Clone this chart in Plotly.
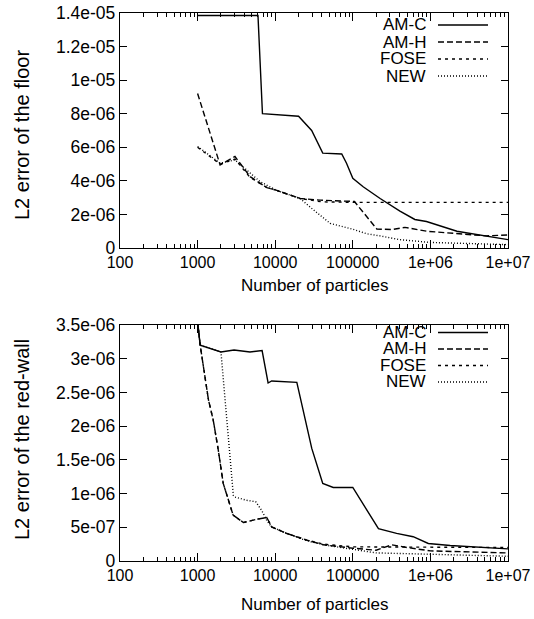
import plotly.graph_objects as go

# ---------------- data ----------------
series_names = ["AM-C", "AM-H", "FOSE", "NEW"]

# Top panel: L2 error of the floor
floor_amc_x = [1000, 6000, 6850, 10000, 20000, 29500, 41000, 72000, 83000, 100000, 136000,
               225000, 405000, 630000, 890000, 2200000, 5300000, 10000000]
floor_amc_y = [13.85e-6, 13.85e-6, 8.0e-6, 7.95e-6, 7.85e-6, 7.0e-6, 5.65e-6, 5.6e-6, 5.05e-6,
               4.15e-6, 3.65e-6, 2.95e-6, 2.2e-6, 1.7e-6, 1.58e-6, 1.0e-6, 0.7e-6, 0.5e-6]

floor_amh_x = [1000, 1950, 3030, 4750, 7800, 10500, 20900, 38000, 105000, 204000, 318000,
               470000, 890000, 2200000, 5300000, 10000000]
floor_amh_y = [9.2e-6, 4.95e-6, 5.45e-6, 4.25e-6, 3.6e-6, 3.43e-6, 2.95e-6, 2.85e-6, 2.77e-6,
               1.13e-6, 1.1e-6, 1.23e-6, 1.0e-6, 0.88e-6, 0.72e-6, 0.78e-6]

floor_fose_x = [1000, 1950, 3030, 4750, 7800, 10500, 20900, 40000, 100000, 1000000, 10000000]
floor_fose_y = [6.0e-6, 5.0e-6, 5.3e-6, 4.2e-6, 3.6e-6, 3.43e-6, 2.95e-6, 2.75e-6, 2.72e-6,
                2.72e-6, 2.72e-6]

floor_new_x = [1000, 1950, 3030, 6400, 10500, 20900, 31000, 51000, 100000, 150000, 225000,
               400000, 1000000, 10000000]
floor_new_y = [6.05e-6, 5.05e-6, 5.25e-6, 3.95e-6, 3.43e-6, 2.95e-6, 2.28e-6, 1.47e-6, 1.12e-6,
               0.85e-6, 0.72e-6, 0.5e-6, 0.33e-6, 0.2e-6]

# Bottom panel: L2 error of the red-wall
wall_amc_x = [1000, 1080, 2000, 2950, 4730, 6780, 8100, 9000, 19000, 29600, 41000, 56000,
              100000, 214000, 367000, 600000, 940000, 1800000, 10000000]
wall_amc_y = [3.55e-6, 3.2e-6, 3.1e-6, 3.13e-6, 3.1e-6, 3.12e-6, 2.64e-6, 2.67e-6, 2.65e-6,
              1.67e-6, 1.15e-6, 1.09e-6, 1.09e-6, 0.48e-6, 0.41e-6, 0.36e-6, 0.26e-6, 0.23e-6,
              0.18e-6]

wall_amh_x = [1000, 1080, 1380, 1590, 1850, 2140, 2870, 3900, 5800, 7800, 9000, 14000, 25500,
              42000, 100000, 200000, 320000, 500000, 1000000, 10000000]
wall_amh_y = [3.55e-6, 3.2e-6, 2.39e-6, 2.09e-6, 1.64e-6, 1.15e-6, 0.68e-6, 0.57e-6, 0.62e-6,
              0.645e-6, 0.505e-6, 0.41e-6, 0.31e-6, 0.24e-6, 0.19e-6, 0.16e-6, 0.24e-6, 0.2e-6,
              0.15e-6, 0.12e-6]

wall_fose_x = [1000, 1080, 1380, 1590, 1850, 2140, 2870, 3900, 5800, 7800, 9000, 14000, 25500,
               42000, 100000, 1000000, 10000000]
wall_fose_y = [3.55e-6, 3.2e-6, 2.39e-6, 2.09e-6, 1.64e-6, 1.15e-6, 0.68e-6, 0.57e-6, 0.62e-6,
               0.645e-6, 0.505e-6, 0.41e-6, 0.31e-6, 0.25e-6, 0.21e-6, 0.205e-6, 0.2e-6]

wall_new_x = [1000, 1080, 2000, 2260, 2570, 2890, 3000, 4300, 5600, 6700, 7800, 9000, 14000,
              25500, 42000, 100000, 200000, 1000000, 10000000]
wall_new_y = [3.55e-6, 3.2e-6, 3.1e-6, 2.39e-6, 1.64e-6, 0.97e-6, 0.95e-6, 0.9e-6, 0.88e-6,
              0.75e-6, 0.6e-6, 0.505e-6, 0.41e-6, 0.3e-6, 0.24e-6, 0.17e-6, 0.12e-6, 0.1e-6,
              0.07e-6]

# Axis ticks
x_tick_vals = [100, 1000, 10000, 100000, 1000000, 10000000]
x_tick_text = ["100", "1000", "10000", "100000", "1e+06", "1e+07"]
x_minor_vals = [m * 10 ** d for d in range(2, 7) for m in range(2, 10)]

floor_tick_vals = [0, 2e-6, 4e-6, 6e-6, 8e-6, 10e-6, 12e-6, 14e-6]
floor_tick_text = ["0", "2e-06", "4e-06", "6e-06", "8e-06", "1e-05", "1.2e-05", "1.4e-05"]

wall_tick_vals = [0, 0.5e-6, 1e-6, 1.5e-6, 2e-6, 2.5e-6, 3e-6, 3.5e-6]
wall_tick_text = ["0", "5e-07", "1e-06", "1.5e-06", "2e-06", "2.5e-06", "3e-06", "3.5e-06"]

# ---------------- styling ----------------
FONT = "Liberation Sans, Arial, Helvetica, sans-serif"
dashes = {"AM-C": "solid", "AM-H": "6px,3px", "FOSE": "3px,4px", "NEW": "1px,2px"}
LW = 1.4

fig = go.Figure()

top = {"AM-C": (floor_amc_x, floor_amc_y), "AM-H": (floor_amh_x, floor_amh_y),
       "FOSE": (floor_fose_x, floor_fose_y), "NEW": (floor_new_x, floor_new_y)}
bot = {"AM-C": (wall_amc_x, wall_amc_y), "AM-H": (wall_amh_x, wall_amh_y),
       "FOSE": (wall_fose_x, wall_fose_y), "NEW": (wall_new_x, wall_new_y)}

for name in reversed(series_names):
    xs, ys = top[name]
    fig.add_trace(go.Scatter(x=xs, y=ys, mode="lines", name=name, showlegend=False,
                             line=dict(color="black", width=LW, dash=dashes[name]),
                             xaxis="x", yaxis="y"))
for name in reversed(series_names):
    xs, ys = bot[name]
    fig.add_trace(go.Scatter(x=xs, y=ys, mode="lines", name=name, showlegend=False,
                             line=dict(color="black", width=LW, dash=dashes[name]),
                             xaxis="x2", yaxis="y2"))

W, H = 534, 619
ML, MR, MT, MB = 120, 26, 13, 58
PW, PH = W - ML - MR, H - MT - MB


def px_x(px):
    return (px - ML) / PW


def px_y(py):
    return (H - MB - py) / PH


axis_common = dict(showline=True, linecolor="black", linewidth=1.4, mirror="allticks",
                   ticks="inside", tickcolor="black", tickwidth=1.2, showgrid=False,
                   zeroline=False)
xfont = dict(family=FONT, size=16, color="black")
yfont = dict(family=FONT, size=17.5, color="black")

fig.update_layout(
    width=W, height=H,
    margin=dict(l=ML, r=MR, t=MT, b=MB, autoexpand=False),
    paper_bgcolor="white", plot_bgcolor="white",
    showlegend=False,
    xaxis=dict(type="log", range=[2, 7], domain=[0, 1], anchor="y",
               tickvals=x_tick_vals, ticktext=x_tick_text, ticklen=8, tickfont=xfont,
               minor=dict(tickvals=x_minor_vals, ticks="inside", ticklen=4,
                          tickcolor="black", tickwidth=1, showgrid=False),
               **axis_common),
    yaxis=dict(range=[0, 14e-6], domain=[px_y(248), 1], anchor="x",
               tickvals=floor_tick_vals, ticktext=floor_tick_text, ticklen=7, tickfont=yfont,
               **axis_common),
    xaxis2=dict(type="log", range=[2, 7], domain=[0, 1], anchor="y2",
                tickvals=x_tick_vals, ticktext=x_tick_text, ticklen=8, tickfont=xfont,
                minor=dict(tickvals=x_minor_vals, ticks="inside", ticklen=4,
                           tickcolor="black", tickwidth=1, showgrid=False),
                **axis_common),
    yaxis2=dict(range=[0, 3.5e-6], domain=[0, px_y(325)], anchor="x2",
                tickvals=wall_tick_vals, ticktext=wall_tick_text, ticklen=7, tickfont=yfont,
                **axis_common),
)

annotations = []
shapes = []

# Axis titles
annotations.append(dict(text="Number of particles", xref="paper", yref="paper",
                        x=0.5, y=px_y(285), xanchor="center", yanchor="middle",
                        showarrow=False, font=dict(family=FONT, size=17, color="black")))
annotations.append(dict(text="Number of particles", xref="paper", yref="paper",
                        x=0.5, y=px_y(604), xanchor="center", yanchor="middle",
                        showarrow=False, font=dict(family=FONT, size=17, color="black")))
annotations.append(dict(text="L2 error of the floor", xref="paper", yref="paper",
                        x=px_x(22), y=px_y(135), xanchor="center", yanchor="middle",
                        textangle=-90, showarrow=False,
                        font=dict(family=FONT, size=20, color="black")))
annotations.append(dict(text="L2 error of the red-wall", xref="paper", yref="paper",
                        x=px_x(22), y=px_y(440), xanchor="center", yanchor="middle",
                        textangle=-90, showarrow=False,
                        font=dict(family=FONT, size=20, color="black")))

# Gnuplot-style legends (text right-aligned, sample to the right)
legend_rows_top = [25, 42, 59, 76]
legend_rows_bot = [332.5, 349, 365.5, 382]
for rows in (legend_rows_top, legend_rows_bot):
    for name, ry in zip(series_names, rows):
        annotations.append(dict(text=name, xref="paper", yref="paper",
                                x=px_x(428), y=px_y(ry), xanchor="right", yanchor="middle",
                                showarrow=False,
                                font=dict(family=FONT, size=17, color="black")))
        shapes.append(dict(type="line", xref="paper", yref="paper",
                           x0=px_x(438), x1=px_x(488), y0=px_y(ry), y1=px_y(ry),
                           line=dict(color="black", width=LW, dash=dashes[name])))

fig.update_layout(annotations=annotations, shapes=shapes)

fig.write_html("out.html", config={"displayModeBar": False},
               post_script="document.body.style.margin='0px';")
